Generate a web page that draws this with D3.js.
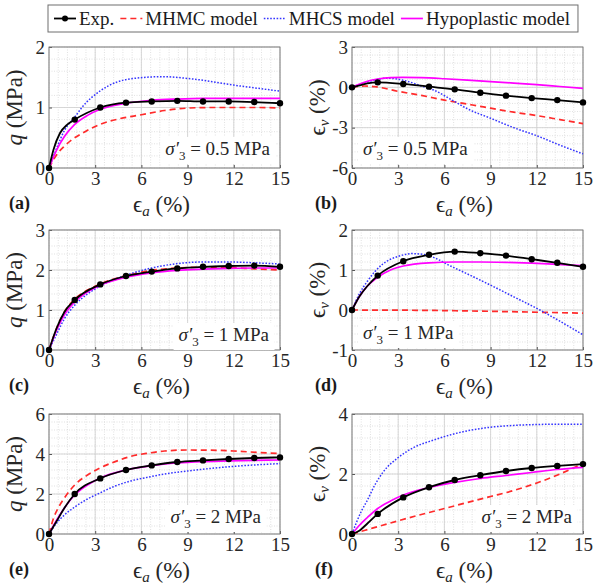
<!DOCTYPE html>
<html>
<head>
<meta charset="utf-8">
<script src="https://cdn.jsdelivr.net/npm/d3@7"></script>
<style>
  body { margin: 0; background: #fff; }
  svg, svg text { font-family: "Liberation Serif", "Times New Roman", serif; }
  .tick text { font-size: 19px; fill: #262626; }
  .tick line { stroke: #555; }
</style>
</head>
<body>
<svg id="chart" width="595" height="588"></svg>
<script>
// ---- data ----
const strain = [0, 1.67, 3.33, 5, 6.67, 8.33, 10, 11.67, 13.33, 15];   // experiment sample points, eps_a (%)
const xTicks = [0, 3, 6, 9, 12, 15];

// (a) q, sigma3' = 0.5 MPa
const expQ05 = [0, 0.80, 1.00, 1.08, 1.10, 1.11, 1.10, 1.10, 1.09, 1.07];
const expQ05Lead = [[0.3, 0.31], [0.7, 0.57], [1.2, 0.72]];
const mhmcQ05 = [[0,0],[0.5,0.22],[1,0.36],[1.5,0.47],[2.2,0.58],[3.3,0.72],[4.5,0.81],[6,0.88],[7.5,0.95],[9,0.99],[10.5,1.0],[12,1.0],[13.5,1.0],[15,0.99]];
const mhcsQ05 = [[0,0],[0.5,0.33],[1,0.62],[1.67,0.84],[2.2,1.02],[3.3,1.27],[4.4,1.42],[5.5,1.48],[7.4,1.51],[9,1.48],[10,1.45],[12,1.37],[13.5,1.32],[15,1.27]];
const hypoQ05 = [[0,0],[0.5,0.3],[1,0.52],[1.67,0.72],[2.5,0.87],[3.33,0.97],[5,1.07],[6.67,1.12],[8.33,1.14],[10,1.15],[12,1.15],[15,1.15]];

// (b) eps_v, sigma3' = 0.5 MPa
const expV05 = [0, 0.37, 0.25, 0.05, -0.15, -0.40, -0.62, -0.80, -0.95, -1.12];
const expV05Lead = [[0.5, 0.15], [1, 0.30]];
const mhmcV05 = [[0,0],[0.8,0.1],[1.5,0.05],[3,-0.3],[4.5,-0.6],[6,-0.95],[7.5,-1.25],[9,-1.55],[10.5,-1.85],[12,-2.1],[13.5,-2.4],[15,-2.7]];
const mhcsV05 = [[0,0],[0.7,0.3],[1.5,0.55],[2.3,0.68],[3,0.6],[3.6,0.45],[4.5,0.1],[5.3,-0.2],[6.5,-0.95],[7.5,-1.6],[9,-2.3],[10.5,-3.0],[12,-3.6],[13.5,-4.3],[15,-4.95]];
const hypoV05 = [[0,0],[0.5,0.25],[1,0.45],[1.67,0.62],[2.5,0.72],[3.3,0.74],[4.5,0.72],[6,0.64],[7.5,0.54],[9,0.43],[10.5,0.32],[12,0.2],[13.5,0.06],[15,-0.08]];

// (c) q, sigma3' = 1 MPa
const expQ1 = [0, 1.25, 1.64, 1.85, 1.96, 2.04, 2.08, 2.10, 2.11, 2.08];
const expQ1Lead = [[0.5, 0.55], [1, 0.95]];
const mhmcQ1 = [[0,0],[0.5,0.55],[1,0.95],[1.67,1.27],[2.5,1.5],[3.33,1.65],[5,1.86],[6.67,1.99],[8.33,2.05],[10,2.07],[11.67,2.06],[13.33,2.03],[15,2.0]];
const mhcsQ1 = [[0,0],[0.5,0.4],[1,0.78],[1.67,1.12],[2.5,1.4],[3.33,1.6],[5,1.87],[6.67,2.05],[8.33,2.16],[10,2.2],[11.67,2.2],[13.33,2.18],[15,2.15]];
const hypoQ1 = [[0,0],[0.5,0.5],[1,0.88],[1.67,1.2],[2.5,1.45],[3.33,1.62],[5,1.82],[6.67,1.93],[8.33,1.99],[10,2.02],[11.67,2.04],[13.33,2.05],[15,2.05]];

// (d) eps_v, sigma3' = 1 MPa
const expV1 = [0, 0.86, 1.22, 1.38, 1.46, 1.42, 1.36, 1.27, 1.18, 1.08];
const expV1Lead = [[0.5, 0.35], [1, 0.6]];
const mhmcV1 = [[0,0],[5,-0.01],[10,-0.04],[15,-0.08]];
const mhcsV1 = [[0,0],[0.5,0.42],[1,0.72],[2,1.15],[3,1.34],[3.9,1.41],[4.8,1.38],[5.5,1.28],[6.3,1.12],[7.5,0.9],[9,0.62],[10.5,0.33],[12.2,0],[13.5,-0.28],[15,-0.62]];
const hypoV1 = [[0,0],[0.5,0.35],[1,0.6],[1.67,0.82],[2.5,1.0],[3.33,1.1],[5,1.18],[6.67,1.2],[8.33,1.2],[10,1.19],[11.67,1.17],[13.33,1.14],[15,1.11]];

// (e) q, sigma3' = 2 MPa
const expQ2 = [0, 2.00, 2.78, 3.20, 3.43, 3.60, 3.68, 3.75, 3.80, 3.83];
const expQ2Lead = [[0.5, 0.65], [1, 1.3]];
const mhmcQ2 = [[0,0],[0.3,0.8],[0.6,1.3],[1,1.8],[1.67,2.45],[2.5,2.95],[3.3,3.3],[4.3,3.62],[5.3,3.88],[6.5,4.05],[7.5,4.15],[9,4.2],[10.5,4.19],[12,4.15],[13.5,4.08],[15,4.02]];
const mhcsQ2 = [[0,0],[0.5,0.55],[1,0.95],[1.67,1.35],[2.5,1.75],[3.3,2.05],[4.3,2.4],[5.3,2.65],[6.5,2.85],[7.5,3.0],[9,3.15],[10.5,3.28],[12,3.38],[13.5,3.46],[15,3.52]];
const hypoQ2 = [[0,0],[0.5,0.7],[1,1.3],[1.67,1.95],[2.5,2.45],[3.33,2.8],[5,3.2],[6.67,3.42],[8.33,3.55],[10,3.62],[11.67,3.66],[13.33,3.68],[15,3.7]];

// (f) eps_v, sigma3' = 2 MPa
const expV2 = [0, 0.67, 1.22, 1.56, 1.80, 1.96, 2.10, 2.20, 2.27, 2.33];
const expV2Lead = [[0.5, 0.12], [1, 0.35]];
const mhmcV2 = [[0,0],[1.5,0.22],[3,0.44],[4.5,0.65],[6,0.85],[7.5,1.05],[9,1.25],[10.5,1.45],[12,1.7],[13.5,2.0],[15,2.35]];
const mhcsV2 = [[0,0],[0.3,0.4],[0.6,0.75],[1,1.13],[1.5,1.65],[2,2.05],[3,2.55],[4,2.88],[5.3,3.13],[6.5,3.32],[7.5,3.44],[9,3.56],[10.5,3.62],[12,3.65],[13.5,3.66],[15,3.66]];
const hypoV2 = [[0,0],[0.5,0.3],[1,0.55],[1.67,0.85],[2.5,1.1],[3.33,1.3],[5,1.55],[6.67,1.72],[8.33,1.85],[10,1.95],[11.67,2.05],[13.33,2.15],[15,2.22]];

const legendLabels = ['Exp.', 'MHMC model', 'MHCS model', 'Hypoplastic model'];

// ---- styling / layout ----
const COLS = [[49, 280], [352, 583]];
const ROWS = [[47, 168], [230, 350], [414, 534]];
const STYLE = {
  exp:  {color: '#000000', width: 1.8, dash: null},
  mhmc: {color: '#ff2b2b', width: 1.7, dash: '6,4'},
  mhcs: {color: '#3535ff', width: 1.5, dash: '1.6,1.6'},
  hypo: {color: '#ff00ff', width: 1.7, dash: null}
};

const panels = [
  {tag: '(a)', col: 0, row: 0, yDomain: [0, 2],  yTicks: [0, 1, 2],      yMinor: 0.2, kind: 'q',
   exp: expQ05, lead: expQ05Lead, mhmc: mhmcQ05, mhcs: mhcsQ05, hypo: hypoQ05,
   note: '0.5', noteX: 270, noteY: 155, anchor: 'end'},
  {tag: '(b)', col: 1, row: 0, yDomain: [-6, 3], yTicks: [-6, -3, 0, 3], yMinor: 0.6, kind: 'v',
   exp: expV05, lead: expV05Lead, mhmc: mhmcV05, mhcs: mhcsV05, hypo: hypoV05,
   note: '0.5', noteX: 363, noteY: 155, anchor: 'start'},
  {tag: '(c)', col: 0, row: 1, yDomain: [0, 3],  yTicks: [0, 1, 2, 3],   yMinor: 0.2, kind: 'q',
   exp: expQ1, lead: expQ1Lead, mhmc: mhmcQ1, mhcs: mhcsQ1, hypo: hypoQ1,
   note: '1', noteX: 269, noteY: 341, anchor: 'end'},
  {tag: '(d)', col: 1, row: 1, yDomain: [-1, 2], yTicks: [-1, 0, 1, 2],  yMinor: 0.2, kind: 'v',
   exp: expV1, lead: expV1Lead, mhmc: mhmcV1, mhcs: mhcsV1, hypo: hypoV1,
   note: '1', noteX: 363, noteY: 339, anchor: 'start'},
  {tag: '(e)', col: 0, row: 2, yDomain: [0, 6],  yTicks: [0, 2, 4, 6],   yMinor: 0.4, kind: 'q',
   exp: expQ2, lead: expQ2Lead, mhmc: mhmcQ2, mhcs: mhcsQ2, hypo: hypoQ2,
   note: '2', noteX: 261, noteY: 523, anchor: 'end'},
  {tag: '(f)', col: 1, row: 2, yDomain: [0, 4],  yTicks: [0, 2, 4],      yMinor: 0.4, kind: 'v',
   exp: expV2, lead: expV2Lead, mhmc: mhmcV2, mhcs: mhcsV2, hypo: hypoV2,
   note: '2', noteX: 572, noteY: 523, anchor: 'end'}
];

const svg = d3.select('#chart');

function drawPanel(p) {
  const [x0, x1] = COLS[p.col];
  const [y0, y1] = ROWS[p.row];
  const x = d3.scaleLinear().domain([0, 15]).range([x0, x1]);
  const y = d3.scaleLinear().domain(p.yDomain).range([y1, y0]);
  const g = svg.append('g');

  // minor grid (dotted) then major grid
  const xMinor = d3.range(0, 15.0001, 0.6);
  const yMinor = d3.range(p.yDomain[0], p.yDomain[1] + 1e-6, p.yMinor);
  g.append('g').selectAll('line').data(xMinor).join('line')
      .attr('x1', d => x(d)).attr('x2', d => x(d)).attr('y1', y0).attr('y2', y1)
      .attr('stroke', '#cccccc').attr('stroke-width', 0.6).attr('stroke-dasharray', '1,1.5');
  g.append('g').selectAll('line').data(yMinor).join('line')
      .attr('y1', d => y(d)).attr('y2', d => y(d)).attr('x1', x0).attr('x2', x1)
      .attr('stroke', '#cccccc').attr('stroke-width', 0.6).attr('stroke-dasharray', '1,1.5');
  g.append('g').selectAll('line').data(xTicks).join('line')
      .attr('x1', d => x(d)).attr('x2', d => x(d)).attr('y1', y0).attr('y2', y1)
      .attr('stroke', '#d2d2d2').attr('stroke-width', 0.9);
  g.append('g').selectAll('line').data(p.yTicks).join('line')
      .attr('y1', d => y(d)).attr('y2', d => y(d)).attr('x1', x0).attr('x2', x1)
      .attr('stroke', '#d2d2d2').attr('stroke-width', 0.9);

  // axes (ticks pointing in, MATLAB style)
  g.append('g')
      .attr('transform', `translate(0,${y1})`)
      .call(d3.axisBottom(x).tickValues(xTicks).tickFormat(d => d).tickSize(-3).tickPadding(3))
      .call(a => a.attr('font-family', null).attr('font-size', null))
      .call(a => a.select('.domain').remove());
  g.append('g')
      .attr('transform', `translate(${x0},0)`)
      .call(d3.axisLeft(y).tickValues(p.yTicks).tickFormat(d => d).tickSize(-3).tickPadding(4))
      .call(a => a.attr('font-family', null).attr('font-size', null))
      .call(a => a.select('.domain').remove());

  g.append('rect')
      .attr('x', x0).attr('y', y0).attr('width', x1 - x0).attr('height', y1 - y0)
      .attr('fill', 'none').attr('stroke', '#7a7a7a').attr('stroke-width', 0.9);

  // curves
  const line = d3.line().x(d => x(d[0])).y(d => y(d[1])).curve(d3.curveMonotoneX);
  const expPts = strain.map((s, i) => [s, p.exp[i]]).concat(p.lead).sort((a, b) => a[0] - b[0]);
  const series = [['mhmc', p.mhmc], ['mhcs', p.mhcs], ['hypo', p.hypo], ['exp', expPts]];
  series.forEach(([key, pts]) => {
    const s = STYLE[key];
    g.append('path').datum(pts)
        .attr('d', line)
        .attr('fill', 'none')
        .attr('stroke', s.color)
        .attr('stroke-width', s.width)
        .attr('stroke-dasharray', s.dash);
  });
  g.append('g').selectAll('circle').data(strain.map((s, i) => [s, p.exp[i]])).join('circle')
      .attr('cx', d => x(d[0])).attr('cy', d => y(d[1])).attr('r', 3.2).attr('fill', '#000');

  // sigma'_3 note on a white box
  const noteG = g.append('g');
  const bg = noteG.append('rect').attr('fill', '#fff');
  const note = noteG.append('text')
      .attr('x', p.noteX).attr('y', p.noteY)
      .attr('text-anchor', p.anchor)
      .attr('font-size', 19).attr('fill', '#262626');
  note.append('tspan').attr('font-style', 'italic').text('σ′');
  note.append('tspan').attr('font-size', 13).attr('dy', 5).text('3');
  note.append('tspan').attr('dy', -5).text(` = ${p.note} MPa`);
  const bb = note.node().getBBox();
  bg.attr('x', bb.x - 5).attr('y', bb.y - 1).attr('width', bb.width + 10).attr('height', bb.height + 2);

  // axis titles
  const xl = g.append('text')
      .attr('x', (x0 + x1) / 2 - 3).attr('y', y1 + 44)
      .attr('text-anchor', 'middle').attr('font-size', 23).attr('fill', '#262626');
  xl.append('tspan').text('ϵ');
  xl.append('tspan').attr('font-size', 15).attr('font-style', 'italic').attr('dy', 4).text('a');
  xl.append('tspan').attr('dy', -4).text(' (%)');

  const yl = g.append('text')
      .attr('transform', `translate(${x0 - 27},${(y0 + y1) / 2}) rotate(-90)`)
      .attr('text-anchor', 'middle').attr('font-size', 23).attr('fill', '#262626');
  if (p.kind === 'q') {
    yl.append('tspan').attr('font-style', 'italic').text('q');
    yl.append('tspan').text(' (MPa)');
  } else {
    yl.append('tspan').text('ϵ');
    yl.append('tspan').attr('font-size', 15).attr('font-style', 'italic').attr('dy', 4).text('v');
    yl.append('tspan').attr('dy', -4).text(' (%)');
  }

  // panel tag
  g.append('text')
      .attr('x', p.col === 0 ? 9 : 315).attr('y', y1 + 41)
      .attr('font-size', 18).attr('font-weight', 'bold').attr('fill', '#1a1a1a')
      .text(p.tag);
}

panels.forEach(drawPanel);

// ---- legend ----
const leg = svg.append('g');
const legBox = leg.append('rect')
    .attr('x', 48).attr('y', 5).attr('height', 27)
    .attr('fill', '#fff').attr('stroke', '#6e6e6e').attr('stroke-width', 1);
let cursor = 54;
const keys = ['exp', 'mhmc', 'mhcs', 'hypo'];
keys.forEach((k, i) => {
  const s = STYLE[k];
  leg.append('line')
      .attr('x1', cursor).attr('x2', cursor + 22).attr('y1', 18.5).attr('y2', 18.5)
      .attr('stroke', s.color).attr('stroke-width', s.width).attr('stroke-dasharray', s.dash);
  if (k === 'exp') {
    leg.append('circle').attr('cx', cursor + 11).attr('cy', 18.5).attr('r', 3).attr('fill', '#000');
  }
  const t = leg.append('text')
      .attr('x', cursor + 25).attr('y', 25)
      .attr('font-size', 19).attr('fill', '#1a1a1a')
      .text(legendLabels[i]);
  cursor += 25 + t.node().getComputedTextLength() + 6;
});
legBox.attr('width', cursor - 48 + 2);
</script>
</body>
</html>
